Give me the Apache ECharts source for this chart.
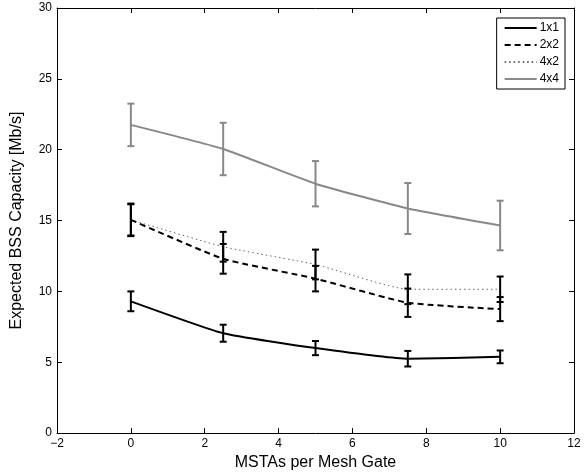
<!DOCTYPE html>
<html>
<head>
<meta charset="utf-8">
<script src="https://cdn.jsdelivr.net/npm/echarts@6/dist/echarts.min.js"></script>
<style>
  html, body { margin: 0; padding: 0; background: #fff; }
  #chart { width: 588px; height: 476px; }
</style>
</head>
<body>
<div id="chart"></div>
<script>
  // MSTAs per mesh gate
  const xValues = [0, 2.5, 5, 7.5, 10];

  const seriesNames = ['1x1', '2x2', '4x2', '4x4'];
  const mean1x1 = [9.3, 7.05, 6.0, 5.25, 5.38];
  const err1x1 = [0.7, 0.6, 0.5, 0.55, 0.45];
  const mean2x2 = [15.05, 12.3, 10.9, 9.2, 8.75];
  const err2x2 = [1.1, 1.05, 0.9, 1.0, 0.85];
  const mean4x2 = [15.05, 13.15, 11.9, 10.15, 10.15];
  const err4x2 = [1.15, 1.05, 1.05, 1.05, 0.9];
  const mean4x4 = [21.75, 20.05, 17.6, 15.85, 14.65];
  const err4x4 = [1.5, 1.85, 1.6, 1.8, 1.75];

  const font = 'Liberation Sans, Arial, Helvetica, sans-serif';
  const chart = echarts.init(document.getElementById('chart'));

  function pairs(ys) {
    return xValues.map((x, i) => [x, ys[i]]);
  }

  function bars(ys, errs) {
    return xValues.map((x, i) => [x, ys[i] - errs[i], ys[i] + errs[i]]);
  }

  // error bar drawn as vertical line + two caps
  function errorSeries(ys, errs, color, z) {
    return {
      type: 'custom',
      xAxisIndex: 0,
      yAxisIndex: 0,
      z: z,
      silent: true,
      data: bars(ys, errs),
      renderItem: function (params, api) {
        const lo = api.coord([api.value(0), api.value(1)]);
        const hi = api.coord([api.value(0), api.value(2)]);
        const w = 3.5;
        const st = { stroke: color, lineWidth: 2 };
        return {
          type: 'group',
          children: [
            { type: 'line', shape: { x1: lo[0], y1: lo[1], x2: hi[0], y2: hi[1] }, style: st },
            { type: 'line', shape: { x1: lo[0] - w, y1: lo[1], x2: lo[0] + w, y2: lo[1] }, style: st },
            { type: 'line', shape: { x1: hi[0] - w, y1: hi[1], x2: hi[0] + w, y2: hi[1] }, style: st }
          ]
        };
      }
    };
  }

  function lineSeries(name, ys, color, width, type, z) {
    return {
      name: name,
      type: 'line',
      data: pairs(ys),
      symbol: 'none',
      smooth: 0.15,
      z: z,
      lineStyle: { color: color, width: width, type: type },
      itemStyle: { color: color }
    };
  }

  const axisCommon = {
    type: 'value',
    axisLine: { show: true, onZero: false, lineStyle: { color: '#000', width: 1 } },
    axisTick: { show: true, inside: true, length: 5, lineStyle: { color: '#000' } },
    splitLine: { show: false }
  };

  const option = {
    animation: false,
    backgroundColor: '#fff',
    textStyle: { fontFamily: font },
    grid: { left: 57, right: 14, top: 8, bottom: 41 },
    legend: {
      data: seriesNames,
      orient: 'vertical',
      right: 23,
      top: 18,
      padding: [4, 6, 4, 7],
      itemGap: 5,
      itemWidth: 32,
      itemHeight: 12,
      borderColor: '#000',
      borderWidth: 1,
      borderRadius: 0,
      backgroundColor: '#fff',
      itemStyle: { opacity: 0 },
      textStyle: { fontFamily: font, fontSize: 12, color: '#000', padding: [0, 0, 0, -2] }
    },
    xAxis: [
      Object.assign({}, axisCommon, {
        min: -2, max: 12, interval: 2,
        position: 'bottom',
        name: 'MSTAs per Mesh Gate',
        nameLocation: 'middle',
        nameGap: 19,
        nameTextStyle: { fontFamily: font, fontSize: 16, color: '#000' },
        axisLabel: {
          fontFamily: font, fontSize: 12, color: '#000', margin: 5,
          formatter: v => String(v).replace('-', '\u2212')
        }
      }),
      Object.assign({}, axisCommon, {
        min: -2, max: 12, interval: 2,
        position: 'top',
        axisLabel: { show: false }
      })
    ],
    yAxis: [
      Object.assign({}, axisCommon, {
        min: 0, max: 30, interval: 5,
        position: 'left',
        name: 'Expected BSS Capacity [Mb/s]',
        nameLocation: 'middle',
        nameGap: 32,
        nameTextStyle: { fontFamily: font, fontSize: 16, color: '#000' },
        axisLabel: { fontFamily: font, fontSize: 12, color: '#000', margin: 5 }
      }),
      Object.assign({}, axisCommon, {
        min: 0, max: 30, interval: 5,
        position: 'right',
        axisLabel: { show: false }
      })
    ],
    series: [
      lineSeries('1x1', mean1x1, '#000', 2, 'solid', 3),
      lineSeries('2x2', mean2x2, '#000', 2, [6, 4], 3),
      lineSeries('4x2', mean4x2, '#666', 1, [1.5, 3], 2),
      lineSeries('4x4', mean4x4, '#888', 2, 'solid', 2),
      errorSeries(mean1x1, err1x1, '#000', 4),
      errorSeries(mean2x2, err2x2, '#000', 4),
      errorSeries(mean4x2, err4x2, '#000', 4),
      errorSeries(mean4x4, err4x4, '#888', 4)
    ]
  };

  chart.setOption(option);
</script>
</body>
</html>
